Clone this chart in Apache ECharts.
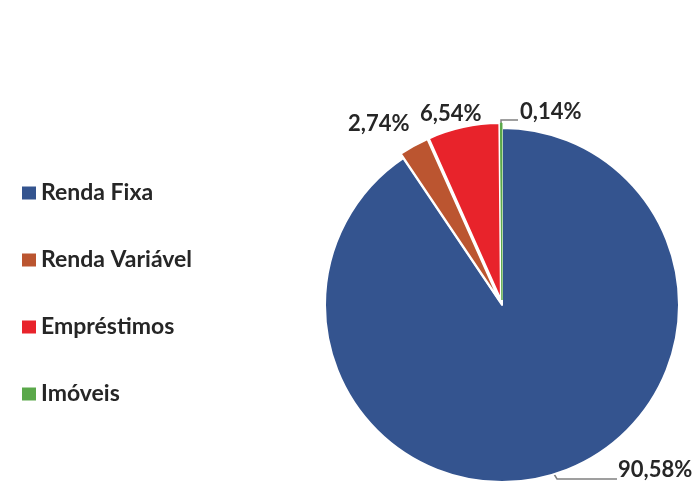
<!DOCTYPE html>
<html><head><meta charset="utf-8">
<script src="https://cdn.jsdelivr.net/npm/echarts@6/dist/echarts.min.js"></script>
<style>html,body{margin:0;padding:0;background:#fff}#c{width:699px;height:483px}</style>
</head><body><div id="c"></div>
<script>
const categories = ['Renda Fixa', 'Renda Variável', 'Empréstimos', 'Imóveis'];
const values = [90.58, 2.74, 6.54, 0.14];
const labels = ['90,58%', '2,74%', '6,54%', '0,14%'];
const colors = ['#34548f', '#bb5530', '#e8232b', '#5aa84a'];

const chart = echarts.init(document.getElementById('c'));
const CX = 502, CY = 305, R = 177, EXPLODE = 5;
const labelPos = [
  {x: 618, y: 470, line: [[554, 474], [557, 479], [617, 479]]},
  {x: 348, y: 124, line: null},
  {x: 420, y: 114, line: null},
  {x: 520, y: 112, line: [[501, 127], [501, 120], [518, 120]]}
];
const total = values.reduce((a, b) => a + b, 0);
let cum = 0;
const mids = values.map(v => { const m = (cum + v / 2) / total * 2 * Math.PI; cum += v; return m; });
const textStyle = {fontFamily: 'Lato', fontWeight: 'bold', fontSize: 22, color: '#262626'};

const series = categories.map((name, i) => {
  const off = i === 0 ? 0 : EXPLODE;
  return {
    type: 'pie',
    name: name,
    silent: true,
    center: [CX + off * Math.sin(mids[i]), CY - off * Math.cos(mids[i])],
    radius: [0, R],
    startAngle: 90,
    clockwise: true,
    avoidLabelOverlap: false,
    label: Object.assign({position: 'outside', formatter: p => labels[p.dataIndex]}, textStyle),
    labelLine: {lineStyle: {color: '#808080', width: 1.5}},
    labelLayout: function (p) {
      const lp = labelPos[p.dataIndex];
      const r = {x: lp.x, y: lp.y, align: 'left', verticalAlign: 'middle'};
      if (lp.line) r.labelLinePoints = lp.line;
      return r;
    },
    data: categories.map((n, j) => ({
      name: n,
      value: values[j],
      itemStyle: j === i
        ? {color: colors[j], borderColor: i === 3 ? colors[3] : '#fff', borderWidth: i === 3 ? 1 : 2}
        : {color: 'rgba(0,0,0,0)', borderWidth: 0},
      label: {show: j === i},
      labelLine: {show: j === i && !!labelPos[j].line}
    }))
  };
});

chart.setOption({
  animation: false,
  legend: {
    orient: 'vertical', left: 22, top: 181, padding: 0,
    itemWidth: 14, itemHeight: 13, itemGap: 43,
    icon: 'rect',
    textStyle: Object.assign({lineHeight: 24}, textStyle, {fontSize: 23}),
    data: categories.map((n, i) => ({name: n, itemStyle: {color: colors[i]}}))
  },
  series: series
});
</script></body></html>
